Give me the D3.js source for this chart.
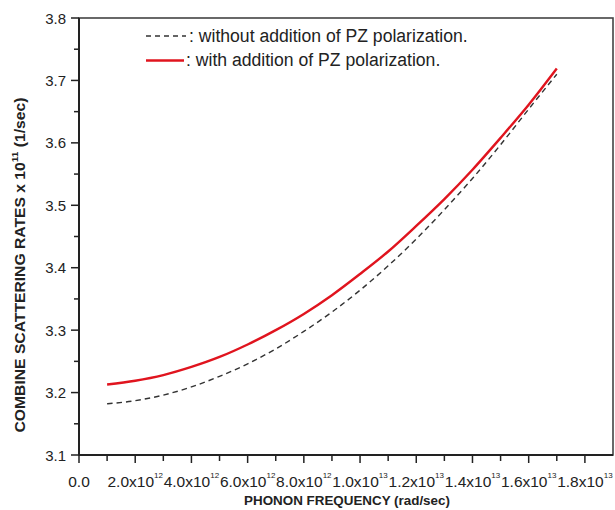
<!DOCTYPE html>
<html><head><meta charset="utf-8">
<script src="https://cdn.jsdelivr.net/npm/d3@7"></script>
<style>body{margin:0;background:#fff}svg{display:block;font-family:"Liberation Sans",Arial,sans-serif}</style>
</head><body><svg id="c" width="615" height="510"></svg>
<script>
// frequency (units of 1e12 rad/sec)
const freq = [1,2,3,4,5,6,7,8,9,10,11,12,13,14,15,16,17];
const withoutPZ = [3.182,3.187,3.196,3.209,3.226,3.246,3.270,3.298,3.329,3.364,3.403,3.446,3.493,3.543,3.597,3.654,3.710];
const withPZ = [3.213,3.219,3.228,3.241,3.257,3.277,3.300,3.326,3.356,3.390,3.426,3.467,3.510,3.557,3.608,3.661,3.719];
const xTickMantissa = ["0.0","2.0","4.0","6.0","8.0","1.0","1.2","1.4","1.6","1.8"];
const xTickExp = ["","12","12","12","12","13","13","13","13","13"];
const xTickValues = [0,2,4,6,8,10,12,14,16,18];
const yTickValues = [3.1,3.2,3.3,3.4,3.5,3.6,3.7,3.8];
const legendLabels = [": without addition of PZ polarization.", ": with addition of PZ polarization."];

const svg = d3.select("#c");
const L=79,R=613,T=18,B=455;
const x = d3.scaleLinear().domain([0,19]).range([L,R]);
const y = d3.scaleLinear().domain([3.1,3.8]).range([B,T]);

// frame
svg.append("rect").attr("x",L).attr("y",T).attr("width",R-L).attr("height",B-T)
  .attr("fill","none").attr("stroke","#444").attr("stroke-width",1.6);

// x axis
const xAxis = svg.append("g").attr("transform",`translate(0,${B})`);
xAxis.append("line").attr("x1",L).attr("x2",R).attr("stroke","#222").attr("stroke-width",2);
const xMinor = d3.range(0,19,1);
xAxis.selectAll("line.t").data(xMinor).join("line").attr("class","t")
  .attr("x1",d=>x(d)).attr("x2",d=>x(d)).attr("y1",0).attr("y2",d=>d%2===0?8:6)
  .attr("stroke","#222").attr("stroke-width",1.5);
const xl = xAxis.selectAll("text").data(xTickValues).join("text")
  .attr("x",d=>x(d)).attr("y",32).attr("text-anchor","middle")
  .attr("font-size",15.5).attr("fill","#222");
xl.each(function(d,i){
  const t=d3.select(this);
  t.append("tspan").text(i===0?xTickMantissa[i]:xTickMantissa[i]+"x10");
  if(xTickExp[i]) t.append("tspan").attr("font-size",8).attr("dy",-9.5).text(xTickExp[i]);
});

// y axis
const yAxis = svg.append("g");
yAxis.append("line").attr("x1",L).attr("x2",L).attr("y1",T).attr("y2",B).attr("stroke","#222").attr("stroke-width",2);
const yMinor = d3.range(0,15).map(i=>3.1+i*0.05);
yAxis.selectAll("line.t").data(yMinor).join("line").attr("class","t")
  .attr("x1",d=>L-((Math.round(d*100)%10===0)?8:5)).attr("x2",L).attr("y1",d=>y(d)).attr("y2",d=>y(d))
  .attr("stroke","#222").attr("stroke-width",1.5);
yAxis.selectAll("text").data(yTickValues).join("text")
  .attr("x",L-13).attr("y",d=>y(d)+5.5).attr("text-anchor","end")
  .attr("font-size",15).attr("fill","#222").text(d=>d.toFixed(1));

// axis titles
svg.append("text").attr("x",347).attr("y",505).attr("text-anchor","middle")
  .attr("font-size",13.4).attr("font-weight","bold").attr("fill","#222").text("PHONON FREQUENCY (rad/sec)");
const yt = svg.append("text").attr("text-anchor","middle")
  .attr("font-size",14).attr("font-weight","bold").attr("fill","#222");
yt.append("tspan").text("COMBINE SCATTERING RATES x 10");
yt.append("tspan").attr("font-size",9).attr("dy",-7).text("11");
yt.append("tspan").attr("dy",7).text(" (1/sec)");
const ytw = yt.node().getComputedTextLength();
yt.attr("transform",`translate(25,265) rotate(-90) scale(${335/ytw},1)`);

// lines
const line = d3.line().curve(d3.curveMonotoneX);
svg.append("path").attr("d",line(freq.map((f,i)=>[x(f),y(withoutPZ[i])])))
  .attr("fill","none").attr("stroke","#333").attr("stroke-width",1.4).attr("stroke-dasharray","5.5,4");
svg.append("path").attr("d",line(freq.map((f,i)=>[x(f),y(withPZ[i])])))
  .attr("fill","none").attr("stroke","#e0141e").attr("stroke-width",2.4);

// legend
const lg = svg.append("g");
lg.append("line").attr("x1",146).attr("x2",186).attr("y1",36).attr("y2",36)
  .attr("stroke","#333").attr("stroke-width",1.4).attr("stroke-dasharray","5,4");
lg.append("line").attr("x1",146).attr("x2",184).attr("y1",60.5).attr("y2",60.5)
  .attr("stroke","#e0141e").attr("stroke-width",2.5);
lg.append("text").attr("x",189).attr("y",42).attr("font-size",17.6).attr("fill","#222").text(legendLabels[0]);
lg.append("text").attr("x",186).attr("y",66).attr("font-size",17.6).attr("fill","#222").text(legendLabels[1]);
</script></body></html>
